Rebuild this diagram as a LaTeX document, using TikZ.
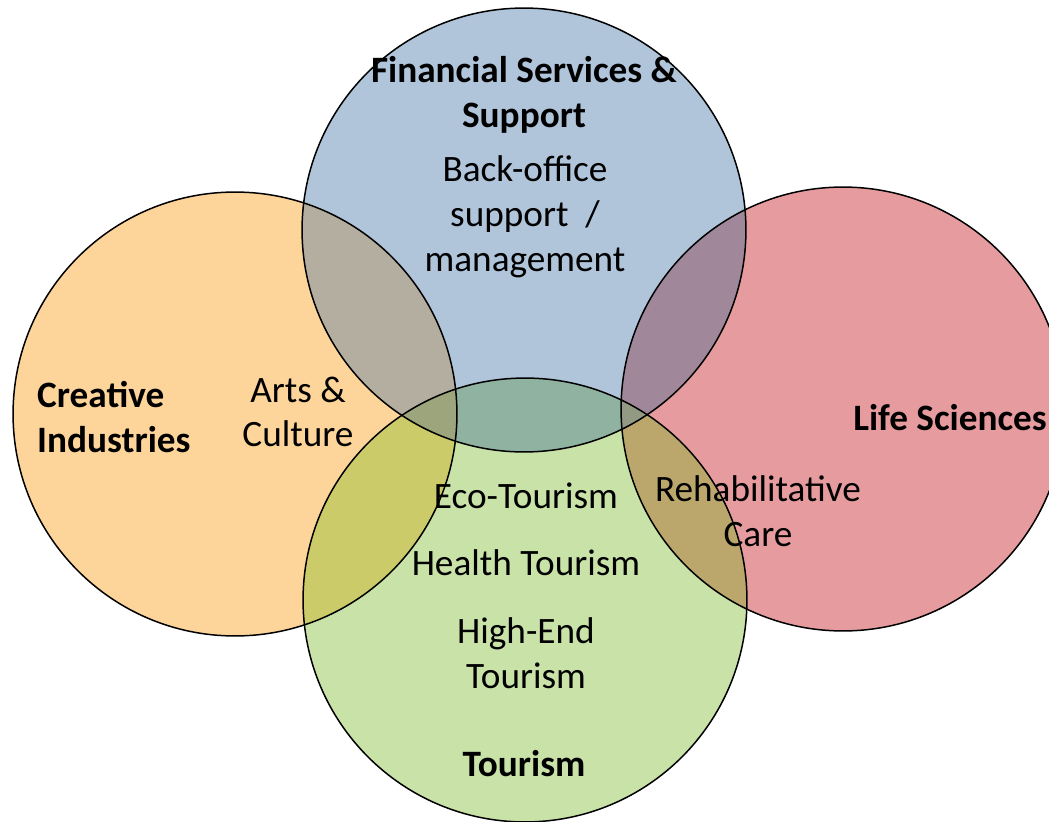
\documentclass[tikz,border=0pt]{standalone}
\usepackage{fontspec}
\setmainfont{Carlito}
\usetikzlibrary{positioning}
\definecolor{creative-col}{HTML}{FDD59A}
\definecolor{finance-col}{HTML}{B0C4DA}
\definecolor{life-col}{HTML}{E69C9E}
\definecolor{tourism-col}{HTML}{C9E2A8}
\definecolor{creative-finance}{HTML}{B3AE9F}
\definecolor{finance-life}{HTML}{A0889A}
\definecolor{creative-tourism}{HTML}{CBCB6A}
\definecolor{life-tourism}{HTML}{BBA76C}
\definecolor{finance-tourism}{HTML}{8FB3A0}
\definecolor{creative-finance-tourism}{HTML}{9CA57C}
\definecolor{finance-life-tourism}{HTML}{939A84}
\tikzset{
  sector-ring/.style={draw=black, line width=0.85pt},
  sector-title/.style={font=\fontsize{21.2}{25.5}\selectfont\bfseries, align=center},
  sector-item/.style={font=\fontsize{21.2}{25.5}\selectfont, align=center},
}
\newcommand{\vennradius}{4.44cm}
% lens of two circles
\newcommand{\vennlens}[3]{%
\begin{scope}
  \clip (#1) circle (\vennradius);
  \fill[#3] (#2) circle (\vennradius);
\end{scope}
}
% middle patch of three circles
\newcommand{\venntriple}[4]{%
\begin{scope}
  \clip (#1) circle (\vennradius);
  \clip (#2) circle (\vennradius);
  \fill[#4] (#3) circle (\vennradius);
\end{scope}
}

\begin{document}
\begin{tikzpicture}[x=0.02cm, y=-0.02cm]
\useasboundingbox (0,0) rectangle (1049,822);
\coordinate (creative) at (235,414);
\coordinate (finance) at (524,230);
\coordinate (life) at (843,409);
\coordinate (tourism) at (525,600);
% plain fills
\foreach \sector in {creative,finance,life,tourism} {
  \fill[\sector-col] (\sector) circle (\vennradius);
}
% overlaps
\vennlens{creative}{finance}{creative-finance}
\vennlens{finance}{life}{finance-life}
\vennlens{creative}{tourism}{creative-tourism}
\vennlens{life}{tourism}{life-tourism}
\vennlens{finance}{tourism}{finance-tourism}
\venntriple{creative}{finance}{tourism}{creative-finance-tourism}
\venntriple{finance}{life}{tourism}{finance-life-tourism}
% outlines
\foreach \sector in {creative,finance,life,tourism} {
  \draw[sector-ring] (\sector) circle (\vennradius);
}
% labels
\node[sector-title] (finance-title) at (524,95) {Financial Services \&\\Support};
\node[sector-item] (finance-item) at (525,217) {Back-office\\support~~/\\management};
\node[sector-title, align=left, anchor=west] (creative-title) at (31,417) {Creative\\Industries};
\node[sector-item] (creative-item) at (298,412) {Arts \&\\Culture};
\node[sector-title] (life-title) at (950,418) {Life Sciences};
\node[sector-item] (life-item) at (758,511) {Rehabilitative\\Care};
\node[sector-item] (eco) at (526,496) {Eco-Tourism};
\node[sector-item] (health) at (526,563) {Health Tourism};
\node[sector-item] (highend) at (526,653) {High-End\\Tourism};
\node[sector-title] (tourism-title) at (524,764) {Tourism};
\end{tikzpicture}
\end{document}
